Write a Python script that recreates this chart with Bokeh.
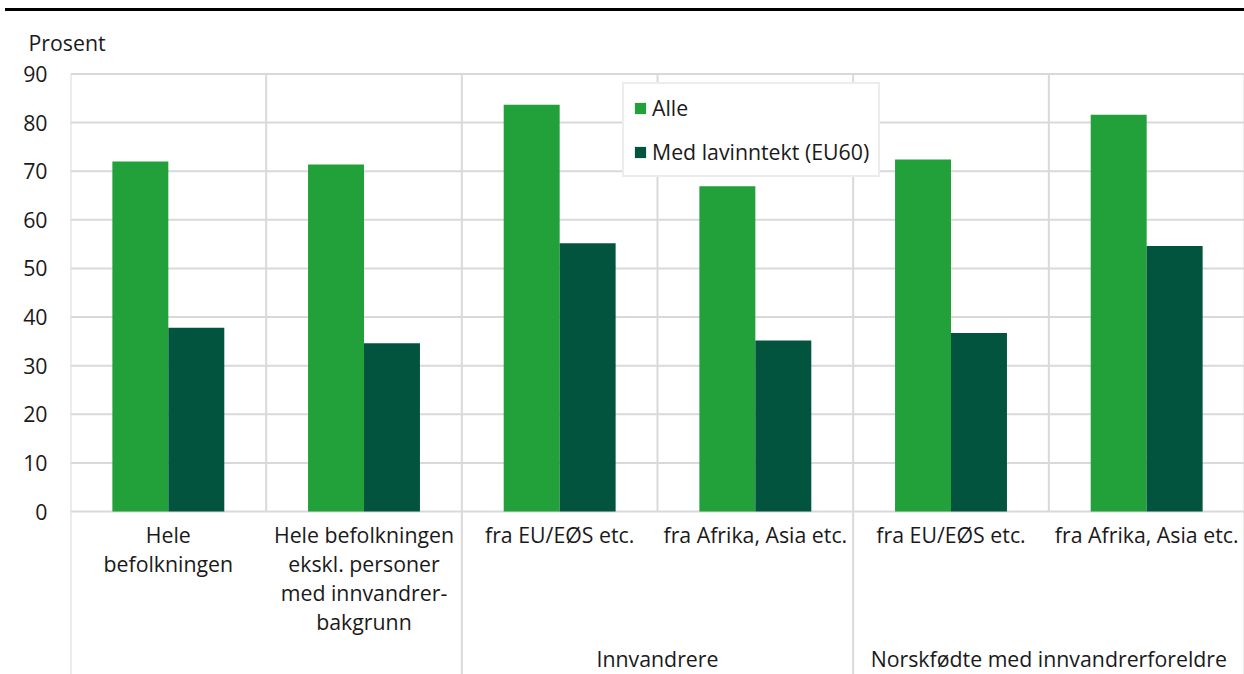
from bokeh.plotting import figure
from bokeh.models import Range1d, ColumnDataSource, FixedTicker, Div, Legend
from bokeh.layouts import column
from bokeh.transform import dodge
from bokeh.core.properties import value
from bokeh.embed import file_html
from bokeh.resources import INLINE

# ---- data ----
categories = ["Hele\nbefolkningen",
              "Hele befolkningen\nekskl. personer\nmed innvandrer-\nbakgrunn",
              "fra EU/EØS etc.", "fra Afrika, Asia etc.",
              "fra EU/EØS etc.", "fra Afrika, Asia etc."]
groups = ["", "", "Innvandrere", "Innvandrere",
          "Norskfødte med innvandrerforeldre", "Norskfødte med innvandrerforeldre"]
alle = [72.0, 71.4, 83.7, 66.9, 72.4, 81.6]
lavinntekt = [37.8, 34.6, 55.2, 35.2, 36.7, 54.6]
series_names = ["Alle", "Med lavinntekt (EU60)"]
y_ticks = [0, 10, 20, 30, 40, 50, 60, 70, 80, 90]
y_label = "Prosent"

FONT = "Open Sans"
FS = "21.3px"
TXT = "#1a1a1a"
GRID = "#d9d9d9"
C_ALLE = "#22a03a"
C_LAV = "#03543f"

n = len(categories)
xs = [i + 0.5 for i in range(n)]
src = ColumnDataSource(dict(x=xs, cat=categories, alle=alle, lav=lavinntekt))

p = figure(width=1244, height=663, x_range=Range1d(0, n), y_range=Range1d(-33.53, 90.72),
           output_backend="svg", toolbar_location=None, x_axis_location=None,
           title=y_label, title_location="above",
           min_border_left=70, min_border_right=0, min_border_top=59, min_border_bottom=0)
p.outline_line_color = None
p.grid.visible = False
p.background_fill_color = "white"
p.border_fill_color = "white"

p.title.text_font = FONT
p.title.text_font_size = FS
p.title.text_font_style = "normal"
p.title.text_color = TXT
p.title.align = "left"
p.title.offset = -42
p.title.standoff = 28

ax = p.yaxis[0]
ax.ticker = FixedTicker(ticks=y_ticks)
ax.axis_line_color = None
ax.major_tick_line_color = None
ax.minor_tick_line_color = None
ax.major_tick_out = 0
ax.major_tick_in = 0
ax.major_label_standoff = 23
ax.major_label_text_font = FONT
ax.major_label_text_font_size = FS
ax.major_label_text_color = TXT

# gridlines
ymax = y_ticks[-1]
p.segment(x0=[0] * len(y_ticks), x1=[n] * len(y_ticks), y0=y_ticks, y1=y_ticks,
          line_color=GRID, line_width=2)
p.segment(x0=list(range(n + 1)), x1=list(range(n + 1)), y0=[0] * (n + 1), y1=[ymax] * (n + 1),
          line_color=GRID, line_width=2)
# group separators extending into the label area
sep = [0, 2, 4, 6]
p.segment(x0=sep, x1=sep, y0=[0] * len(sep), y1=[-40] * len(sep), line_color=GRID, line_width=2)

bw = 0.286
r1 = p.vbar(x=dodge("x", -bw / 2, range=p.x_range), top="alle", width=bw, source=src,
            fill_color=C_ALLE, line_color=None)
r2 = p.vbar(x=dodge("x", bw / 2, range=p.x_range), top="lav", width=bw, source=src,
            fill_color=C_LAV, line_color=None)

legend = Legend(items=[(series_names[0], [r1]), (series_names[1], [r2])],
                location=(552, 497), orientation="vertical")
legend.label_text_font = FONT
legend.label_text_font_size = FS
legend.label_text_color = TXT
legend.glyph_width = 14
legend.glyph_height = 14
legend.label_standoff = 5
legend.padding = 9
legend.spacing = 15
legend.margin = 0
legend.border_line_color = GRID
legend.border_line_width = 2
legend.background_fill_alpha = 1
p.add_layout(legend)

# category labels
p.text(x="x", y=-1.7, text="cat", source=src, text_align="center", text_baseline="top",
       text_font=value(FONT), text_font_size=FS, text_color=TXT, text_line_height=1.0)

# group labels
gnames, gx = [], []
for g in dict.fromkeys(groups):
    if g:
        idx = [i for i, gg in enumerate(groups) if gg == g]
        gnames.append(g)
        gx.append((idx[0] + idx[-1] + 1) / 2)
p.text(x=gx, y=[-27.2] * len(gx), text=gnames, text_align="center", text_baseline="top",
       text_font=value(FONT), text_font_size=FS, text_color=TXT)

topline = Div(text="", width=1239, height=3, margin=(8, 0, 0, 5),
              styles={"background-color": "#000000"})
layout = column(topline, p, spacing=0)

open("out.html", "w").write(file_html(layout, INLINE))
